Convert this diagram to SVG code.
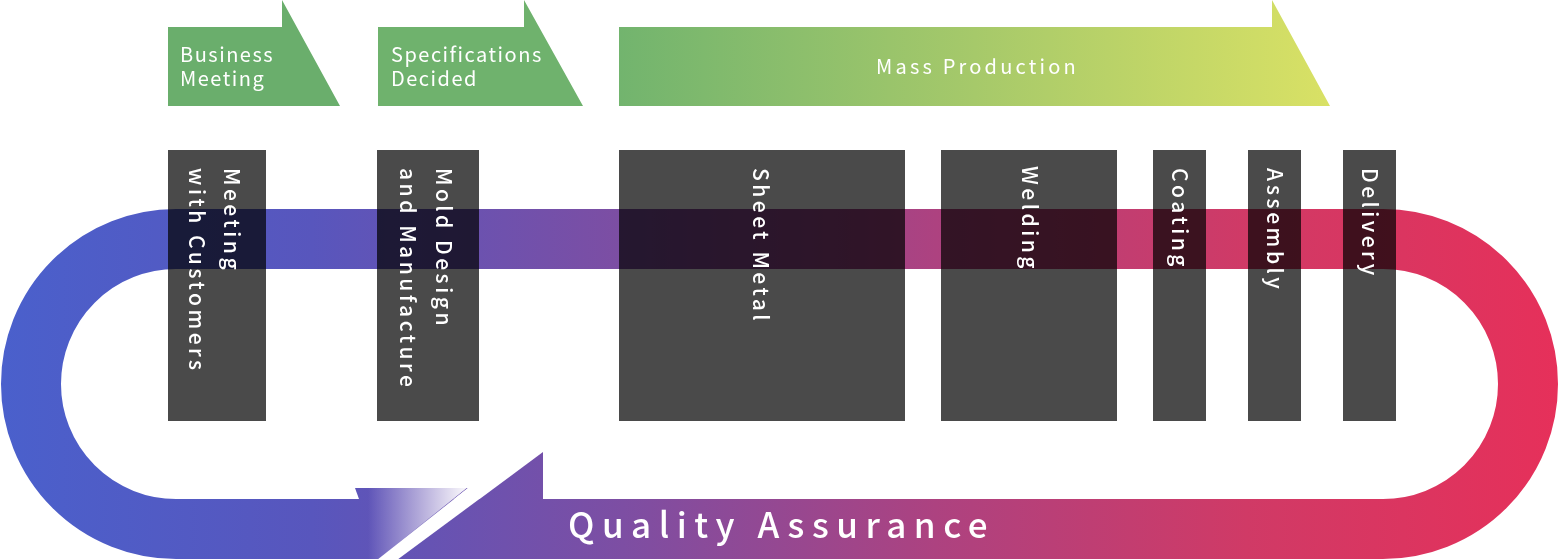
<svg xmlns="http://www.w3.org/2000/svg" width="1559" height="560" viewBox="0 0 1559 560">
<style>
.box{fill:#4a4a4a;mix-blend-mode:multiply}
.vt{font-family:"Noto Sans CJK JP","Noto Sans",sans-serif;font-size:21px;font-weight:500;fill:#fff;letter-spacing:3.5px}
.ht{font-family:"Noto Sans CJK JP","Noto Sans",sans-serif;font-size:20px;fill:#fff;letter-spacing:1.5px}
.mp{letter-spacing:3.2px}
.qa{font-family:"Noto Sans CJK JP","Noto Sans",sans-serif;font-size:35px;font-weight:500;fill:#fff;letter-spacing:7.5px}
</style>
<defs>
<linearGradient id="band" gradientUnits="userSpaceOnUse" x1="0" y1="0" x2="1559" y2="0">
<stop offset="0" stop-color="#4a60cc"/>
<stop offset="0.2" stop-color="#5856bd"/>
<stop offset="0.4" stop-color="#7d4ea3"/>
<stop offset="0.6" stop-color="#ad4280"/>
<stop offset="0.8" stop-color="#d03a66"/>
<stop offset="1" stop-color="#e6305a"/>
</linearGradient>
<linearGradient id="fade" gradientUnits="userSpaceOnUse" x1="368" y1="0" x2="470" y2="0">
<stop offset="0" stop-color="#fff" stop-opacity="0"/>
<stop offset="1" stop-color="#fff" stop-opacity="1"/>
</linearGradient>
<linearGradient id="mass" gradientUnits="userSpaceOnUse" x1="619" y1="0" x2="1330" y2="0">
<stop offset="0" stop-color="#72b46e"/>
<stop offset="0.5" stop-color="#a6c96a"/>
<stop offset="1" stop-color="#d9e165"/>
</linearGradient>
</defs>

<g id="loop">
<path d="M176 239 H1383 A145 145 0 0 1 1383 529 H176 A145 145 0 0 1 176 239 Z" fill="none" stroke="url(#band)" stroke-width="60"/>
<polygon points="355,488 468,488 454.1,499 359,499" fill="url(#band)"/>
<polygon points="355,487 468,487 376,561 355,561" fill="url(#fade)"/>
<polygon points="468,488 494.3,488 395.6,561 375.7,561" fill="#fff"/>
<polygon points="543,452 543,499.5 479,499.5" fill="url(#band)"/>
<text class="qa" x="568" y="538">Quality Assurance</text>
</g>

<g id="phase-business">
<polygon points="168,27 282,27 282,0 340,106 168,106" fill="#6aae6c"/>
<text class="ht" x="180" y="62">Business<tspan x="180" y="86">Meeting</tspan></text>
</g>
<g id="phase-specs">
<polygon points="378,27 524,27 524,0 583,106 378,106" fill="#6fb26d"/>
<text class="ht" x="391" y="62">Specifications<tspan x="391" y="86">Decided</tspan></text>
</g>
<g id="phase-mass">
<polygon points="619,27 1272,27 1272,0 1330,106 619,106" fill="url(#mass)"/>
<text class="ht mp" x="876" y="74">Mass Production</text>
</g>

<g id="step-meeting">
<rect class="box" x="168" y="150" width="98" height="271"/>
<text class="vt" transform="translate(224,168) rotate(90)"><tspan x="0" y="0">Meeting</tspan><tspan x="0" y="35">with Customers</tspan></text>
</g>
<g id="step-mold">
<rect class="box" x="377" y="150" width="102" height="271"/>
<text class="vt" transform="translate(436,168) rotate(90)"><tspan x="0" y="0">Mold Design</tspan><tspan x="0" y="36">and Manufacture</tspan></text>
</g>
<g id="step-sheet">
<rect class="box" x="619" y="150" width="286" height="271"/>
<text class="vt" transform="translate(753,168) rotate(90)">Sheet Metal</text>
</g>
<g id="step-welding">
<rect class="box" x="941" y="150" width="176" height="271"/>
<text class="vt" transform="translate(1022,166) rotate(90)">Welding</text>
</g>
<g id="step-coating">
<rect class="box" x="1153" y="150" width="53" height="271"/>
<text class="vt" transform="translate(1172,168) rotate(90)">Coating</text>
</g>
<g id="step-assembly">
<rect class="box" x="1248" y="150" width="53" height="271"/>
<text class="vt" transform="translate(1267,168) rotate(90)">Assembly</text>
</g>
<g id="step-delivery">
<rect class="box" x="1343" y="150" width="53" height="271"/>
<text class="vt" transform="translate(1362,168) rotate(90)">Delivery</text>
</g>
</svg>
